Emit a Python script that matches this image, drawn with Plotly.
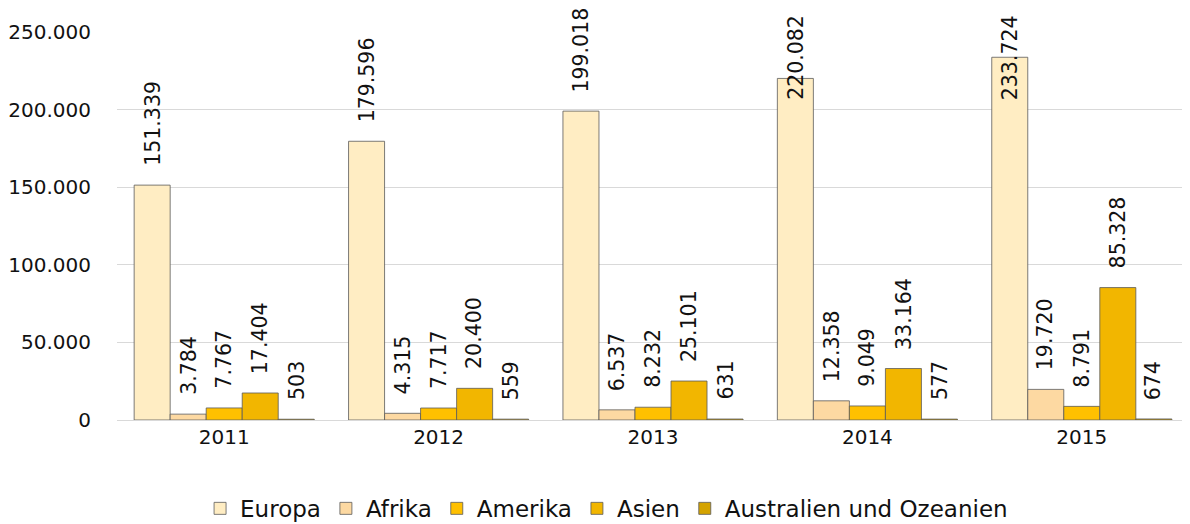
import plotly.graph_objects as go

years = ["2011", "2012", "2013", "2014", "2015"]
europa = [151339, 179596, 199018, 220082, 233724]
afrika = [3784, 4315, 6537, 12358, 19720]
amerika = [7767, 7717, 8232, 9049, 8791]
asien = [17404, 20400, 25101, 33164, 85328]
australien = [503, 559, 631, 577, 674]
series_names = ["Europa", "Afrika", "Amerika", "Asien", "Australien und Ozeanien"]
series_values = [europa, afrika, amerika, asien, australien]
colors = ["#FFEDC3", "#FDD9A2", "#FFC000", "#F2B600", "#D4A300"]
y_ticks = [0, 50000, 100000, 150000, 200000, 250000]
y_tick_labels = ["0", "50.000", "100.000", "150.000", "200.000", "250.000"]

# page body has an 8px margin; margins below compensate so the plot area
# lands at x 117..1189, y 32..420 in the browser window
W, H = 1190, 524
BODY = 8
ml, mr, mt, mb = 117 - BODY, 1 + BODY, 32 - BODY, 104 + BODY
bargap = 0.16
FONT = "DejaVu Sans"
FS = 20
LFS = 20.5
ymax = 250000


def fmt(v):
    return f"{v:,}".replace(",", ".")


fig = go.Figure()
for name, vals, col in zip(series_names, series_values, colors):
    fig.add_trace(go.Bar(
        x=years, y=vals, name=name,
        marker=dict(color=col, line=dict(color="#5a5a5a", width=0.8)),
    ))

plot_w = W - ml - mr
plot_h = H - mt - mb
slot = plot_w / len(years)
bw = slot * (1 - bargap) / len(series_names)
label_len_px = 86
pad = 17
annotations = []
for i, vals in enumerate(series_values):
    for j, v in enumerate(vals):
        top_px = plot_h * v / ymax
        room = plot_h - top_px + 32 - pad - label_len_px
        if room >= 6:
            ann = dict(y=v, yanchor="bottom", yshift=pad)
        else:
            ann = dict(y=ymax, yanchor="top", yshift=32 - 13)
        ann.update(x=j, xref="x", yref="y", text=fmt(v), showarrow=False,
                   textangle=-90, xshift=(i - (len(series_names) - 1) / 2) * bw,
                   font=dict(family=FONT, size=LFS, color="#111"))
        annotations.append(ann)

fig.update_layout(
    width=W, height=H,
    margin=dict(l=ml, r=mr, t=mt, b=mb, autoexpand=False),
    paper_bgcolor="white", plot_bgcolor="white",
    barmode="group", bargap=bargap, bargroupgap=0,
    font=dict(family=FONT, size=FS, color="#111"),
    annotations=annotations,
    showlegend=True,
    legend=dict(orientation="h", x=0.503, xref="container", xanchor="center",
                y=0.004, yref="container", yanchor="bottom",
                font=dict(family=FONT, size=23, color="#111"),
                itemwidth=30, tracegroupgap=0),
    xaxis=dict(type="category", range=[-0.5, len(years) - 0.5],
               showgrid=False, showline=False, ticks="",
               ticklabelstandoff=3, tickfont=dict(size=FS)),
    yaxis=dict(range=[0, ymax], tickvals=y_ticks, ticktext=y_tick_labels,
               showgrid=True, gridcolor="#D9D9D9", gridwidth=1,
               zeroline=True, zerolinecolor="#D9D9D9", zerolinewidth=1,
               showline=False, ticks="", ticklabelstandoff=25,
               tickfont=dict(size=FS)),
)

fig.write_html("out.html")
